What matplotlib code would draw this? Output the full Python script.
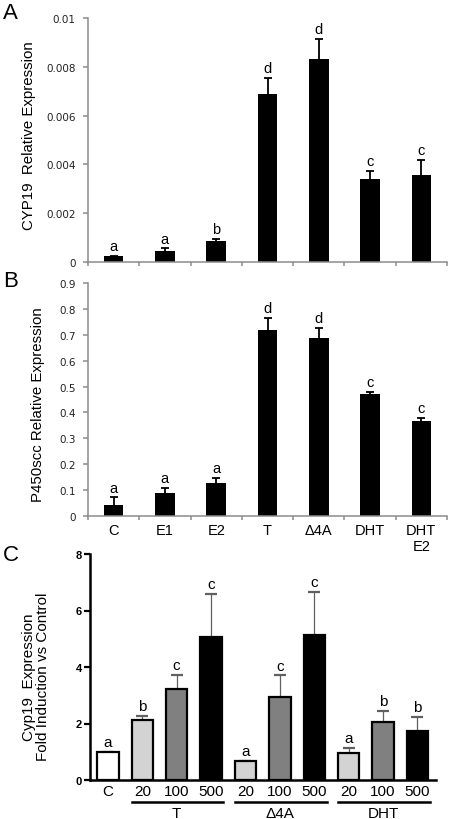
import matplotlib
matplotlib.use('Agg')
import matplotlib.pyplot as plt
import matplotlib.transforms as mtransforms
import numpy as np

plt.rcParams['font.family'] = ['Liberation Sans', 'DejaVu Sans']

# ---------------- data ----------------
cats_ab = ['C', 'E1', 'E2', 'T', 'Δ4A', 'DHT', 'DHT\nE2']

cyp19_mean = [0.00023, 0.00046, 0.00085, 0.00689, 0.00831, 0.00339, 0.00357]
cyp19_err = [0.00003, 0.00010, 0.00009, 0.00065, 0.00082, 0.00033, 0.00060]
cyp19_letters = ['a', 'a', 'b', 'd', 'd', 'c', 'c']
cyp19_ticks = [0, 0.002, 0.004, 0.006, 0.008, 0.01]
cyp19_ticklabels = ['0', '0.002', '0.004', '0.006', '0.008', '0.01']

p450_mean = [0.041, 0.088, 0.128, 0.720, 0.686, 0.470, 0.368]
p450_err = [0.031, 0.020, 0.018, 0.045, 0.041, 0.009, 0.010]
p450_letters = ['a', 'a', 'a', 'd', 'd', 'c', 'c']
p450_ticks = [0, 0.1, 0.2, 0.3, 0.4, 0.5, 0.6, 0.7, 0.8, 0.9]
p450_ticklabels = ['0', '0.1', '0.2', '0.3', '0.4', '0.5', '0.6', '0.7', '0.8', '0.9']

dose_labels = ['C', '20', '100', '500', '20', '100', '500', '20', '100', '500']
dose_level = [0, 1, 2, 3, 1, 2, 3, 1, 2, 3]
group_names = ['T', 'Δ4A', 'DHT']
group_members = [[1, 2, 3], [4, 5, 6], [7, 8, 9]]
fold_mean = [1.00, 2.11, 3.22, 5.05, 0.66, 2.95, 5.13, 0.95, 2.07, 1.74]
fold_err = [0.00, 0.15, 0.50, 1.55, 0.03, 0.75, 1.52, 0.20, 0.39, 0.50]
fold_letters = ['a', 'b', 'c', 'c', 'a', 'c', 'c', 'a', 'b', 'b']
fold_ticks = [0, 2, 4, 6, 8]
level_colors = ['white', '#d3d3d3', '#808080', 'black']

# ---------------- figure ----------------
W, H = 450, 820
fig = plt.figure(figsize=(W / 100, H / 100), dpi=100)


def px_axes(left, top, right, bottom):
    return fig.add_axes([left / W, 1 - bottom / H, (right - left) / W, (bottom - top) / H])


GRAY = '#8c8c8c'


def style_ab(ax, ticks, ticklabels, show_xlabels):
    n = len(cats_ab)
    ax.set_xlim(-0.5, n - 0.5)
    for s in ['top', 'right']:
        ax.spines[s].set_visible(False)
    for s in ['left', 'bottom']:
        ax.spines[s].set_color(GRAY)
        ax.spines[s].set_linewidth(1.1)
    ax.set_yticks(ticks)
    ax.set_yticklabels(ticklabels, fontsize=7.5, family='DejaVu Sans', color='#222222')
    ax.tick_params(axis='y', direction='out', length=3.5, width=1.1, color=GRAY, pad=5.5)
    ax.set_xticks(np.arange(n))
    if show_xlabels:
        ax.set_xticklabels(cats_ab, fontsize=10.5, va='top')
    else:
        ax.set_xticklabels([])
    ax.tick_params(axis='x', which='major', length=0, pad=5)
    ax.set_xticks(np.arange(n + 1) - 0.5, minor=True)
    ax.tick_params(axis='x', which='minor', direction='out', length=3, width=1.1, color=GRAY)


def draw_ab(ax, mean, err, letters):
    x = np.arange(len(mean))
    ax.bar(x, mean, width=0.38, color='black', zorder=2)
    eb = ax.errorbar(x, mean, yerr=[np.zeros(len(err)), err], fmt='none', ecolor='black',
                     elinewidth=1.3, capsize=2.9, capthick=1.3, zorder=3)
    eb[1][0].set_visible(False)
    for xi, m, e, l in zip(x, mean, err, letters):
        ax.annotate(l, (xi, m + e), xytext=(0, 2.0), textcoords='offset points',
                    ha='center', va='bottom', fontsize=10.5)


# Panel A
axA = px_axes(88, 19, 447, 263)
draw_ab(axA, cyp19_mean, cyp19_err, cyp19_letters)
axA.set_ylim(0, 0.01)
style_ab(axA, cyp19_ticks, cyp19_ticklabels, False)

# Panel B
axB = px_axes(88, 284, 447, 517)
draw_ab(axB, p450_mean, p450_err, p450_letters)
axB.set_ylim(0, 0.9)
style_ab(axB, p450_ticks, p450_ticklabels, True)

# Panel C
axC = px_axes(90, 555, 436, 781)
xc = np.arange(len(fold_mean))
axC.bar(xc, fold_mean, width=0.62, color=[level_colors[d] for d in dose_level],
        edgecolor='black', linewidth=1.6, zorder=2)
ebc = axC.errorbar(xc, fold_mean, yerr=[np.zeros(len(fold_err)), fold_err], fmt='none',
                   ecolor='#606060', elinewidth=0.9, capsize=4.3, capthick=1.6, zorder=1)
ebc[1][0].set_visible(False)
ebc[1][1].set_color('black')
for xi, m, e, l in zip(xc, fold_mean, fold_err, fold_letters):
    axC.annotate(l, (xi, m + e), xytext=(0, 2.0), textcoords='offset points',
                 ha='center', va='bottom', fontsize=11)
axC.set_xlim(-0.52, len(fold_mean) - 0.46)
axC.set_ylim(0, 8)
for s in ['top', 'right']:
    axC.spines[s].set_visible(False)
for s in ['left', 'bottom']:
    axC.spines[s].set_linewidth(1.8)
    axC.spines[s].set_color('black')
axC.set_yticks(fold_ticks)
axC.set_yticklabels([str(t) for t in fold_ticks], fontsize=8, fontweight='bold')
axC.tick_params(axis='y', direction='out', length=4, width=1.6, pad=2)
axC.set_xticks(xc)
axC.set_xticklabels(dose_labels, fontsize=11)
axC.tick_params(axis='x', length=0, pad=3)

trans = mtransforms.blended_transform_factory(axC.transData, axC.transAxes)
for name, members in zip(group_names, group_members):
    x0, x1 = members[0] - 0.3, members[-1] + 0.36
    axC.plot([x0, x1], [-0.097, -0.097], color='black', lw=1.8, transform=trans, clip_on=False)
    axC.text((members[0] + members[-1]) / 2, -0.145, name, transform=trans, ha='center',
             va='center', fontsize=11)

# y labels
fig.text(29 / W, 1 - 136 / H, 'CYP19  Relative Expression', rotation=90, ha='center',
         va='center', fontsize=10.8)
fig.text(38 / W, 1 - 405 / H, 'P450scc Relative Expression', rotation=90, ha='center',
         va='center', fontsize=10.8)
fig.text(36 / W, 1 - 677 / H, 'Cyp19  Expression\nFold Induction vs Control', rotation=90,
         ha='center', va='center', fontsize=11, linespacing=1.0)

# panel letters
fig.text(3 / W, 1 - 3 / H, 'A', ha='left', va='top', fontsize=16)
fig.text(3 / W, 1 - 271 / H, 'B', ha='left', va='top', fontsize=16)
fig.text(3 / W, 1 - 545 / H, 'C', ha='left', va='top', fontsize=16)

fig.savefig('out.png', dpi=100)
